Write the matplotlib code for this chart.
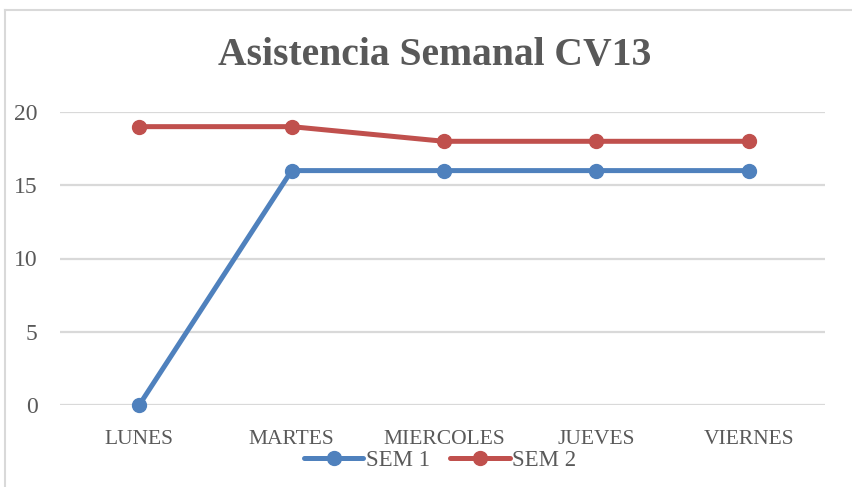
import matplotlib
matplotlib.use("Agg")
from matplotlib import pyplot as plt
from matplotlib.lines import Line2D

days = ["LUNES", "MARTES", "MIERCOLES", "JUEVES", "VIERNES"]
sem1 = [0, 16, 16, 16, 16]
sem2 = [19, 19, 18, 18, 18]
yticks = [0, 5, 10, 15, 20]

BLUE = "#4F81BD"
RED = "#C0504D"
TEXT = "#595959"
GRID = "#D9D9D9"
SERIF = ["Liberation Serif", "DejaVu Serif"]

fig = plt.figure(figsize=(8.53, 4.87), dpi=100)
ax = fig.add_axes([60 / 853, 1 - 405 / 487, 765 / 853, 293 / 487])

x = list(range(len(days)))
ax.plot(x, sem1, color=BLUE, linewidth=3.6, marker="o", markersize=10,
        label="SEM 1", solid_capstyle="round", zorder=3, clip_on=False)
ax.plot(x, sem2, color=RED, linewidth=3.6, marker="o", markersize=10,
        label="SEM 2", solid_capstyle="round", zorder=3, clip_on=False)

ax.set_xlim(-0.52, 4.5)
ax.set_ylim(0, 20)
ax.set_yticks(yticks)
ax.set_yticklabels([str(v) for v in yticks], family=SERIF,
                   fontsize=17, color=TEXT)
ax.set_xticks(x)
ax.set_xticklabels(days, family=SERIF, fontsize=15.5, color=TEXT)
ax.tick_params(axis="y", length=0, pad=16)
ax.tick_params(axis="x", length=0, pad=18)
ax.grid(axis="y", color=GRID, linewidth=1.6)
ax.set_axisbelow(True)
for s in ax.spines.values():
    s.set_visible(False)

fig.text(435 / 853, 1 - 55 / 487, "Asistencia Semanal CV13", ha="center",
         va="center", family=SERIF, fontweight="bold", fontsize=28.5,
         color=TEXT)

leg = fig.legend(loc="center", bbox_to_anchor=(440 / 853, 1 - 460 / 487),
                 ncol=2, frameon=False, handlelength=2.6, columnspacing=0.9,
                 handletextpad=0.1, prop={"family": SERIF, "size": 16.5})
for t in leg.get_texts():
    t.set_color(TEXT)

# chart border (left and top edges visible)
fig.add_artist(Line2D([5 / 853, 5 / 853], [0, 1 - 10 / 487], color=GRID,
                      linewidth=1.5, transform=fig.transFigure))
fig.add_artist(Line2D([5 / 853, 1], [1 - 10 / 487, 1 - 10 / 487], color=GRID,
                      linewidth=1.5, transform=fig.transFigure))

fig.savefig("out.png", dpi=100)
